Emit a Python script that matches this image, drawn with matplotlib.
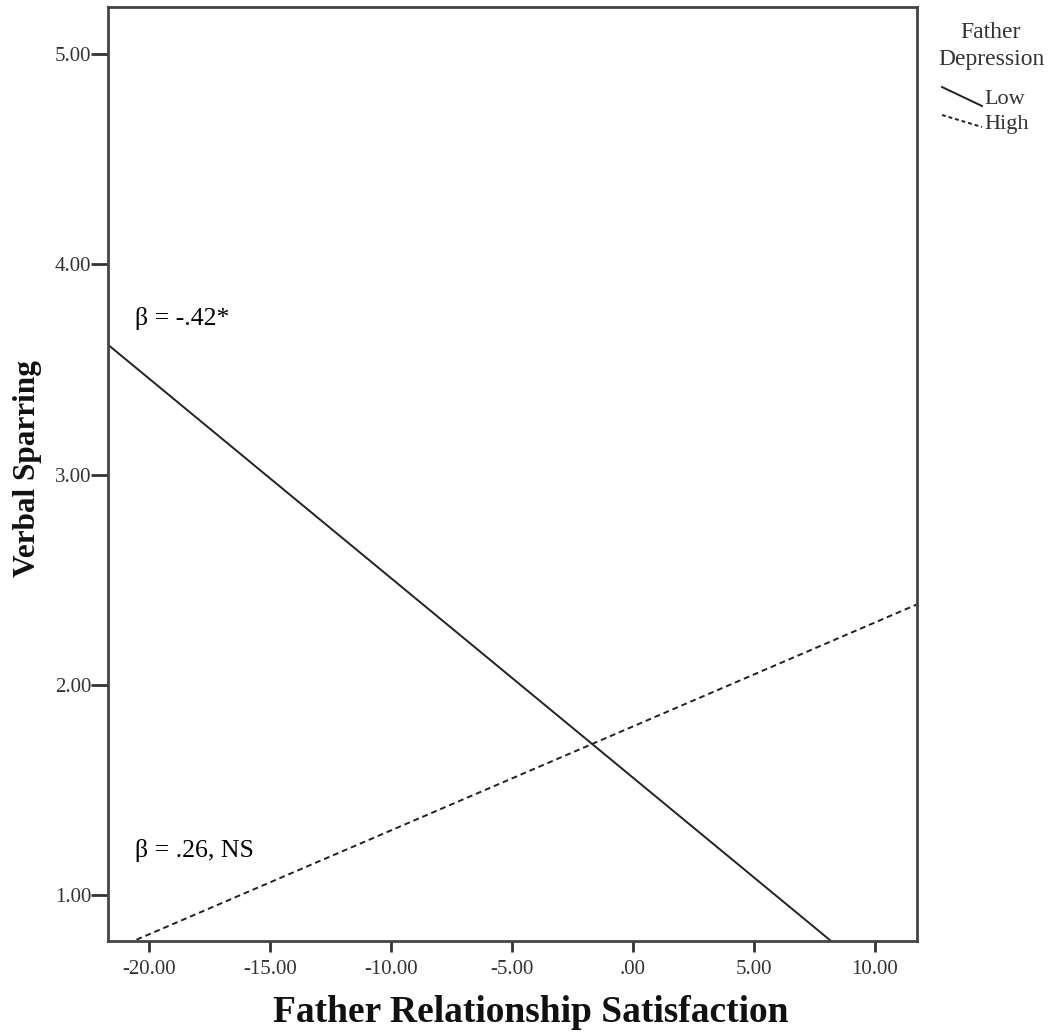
import numpy as np
import matplotlib
matplotlib.use("Agg")
import matplotlib.pyplot as plt
from matplotlib.lines import Line2D

plt.rcParams['font.family'] = ['Liberation Serif', 'DejaVu Serif']

# simple slopes (line endpoints, clipped by the axes)
x_ends = [-22.0, 12.0]
low_y = [3.646, 0.419]
high_y = [0.714, 2.395]

x_ticks = [-20, -15, -10, -5, 0, 5, 10]
x_labels = ["-20.00", "-15.00", "-10.00", "-5.00", ".00", "5.00", "10.00"]
y_ticks = [1, 2, 3, 4, 5]
y_labels = ["1.00", "2.00", "3.00", "4.00", "5.00"]

W, H = 1055, 1033
fig = plt.figure(figsize=(W / 100, H / 100), dpi=100)
ax = fig.add_axes([108 / W, 1 - 941 / H, (917 - 108) / W, (941 - 7) / H])

ax.plot(x_ends, low_y, color="#222222", lw=1.4, solid_capstyle="butt")
ax.plot(x_ends, high_y, color="#222222", lw=1.4, linestyle=(0, (3, 2)))

ax.set_xlim(-21.7, 11.74)
ax.set_ylim(0.781, 5.224)

ax.set_xticks(x_ticks)
ax.set_xticklabels(x_labels)
ax.set_yticks(y_ticks)
ax.set_yticklabels(y_labels)

for s in ax.spines.values():
    s.set_color("#444444")
    s.set_linewidth(2)
ax.tick_params(axis="x", direction="out", length=8, width=2, color="#333333",
               labelsize=15, labelcolor="#333333", pad=6)
ax.tick_params(axis="y", direction="out", length=12, width=2, color="#333333",
               labelsize=15, labelcolor="#333333", pad=0)

fig.text(531 / W, 1 - 1012 / H, "Father Relationship Satisfaction",
         ha="center", va="center", fontsize=27, fontweight="bold", color="#111111")
fig.text(28 / W, 1 - 469 / H, "Verbal Sparring", rotation=90,
         ha="center", va="center", fontsize=22.5, fontweight="bold", color="#111111")

ax.text(0.033, 0.666, "β = -.42*", transform=ax.transAxes, fontsize=18.5,
        ha="left", va="center")
ax.text(0.033, 0.0974, "β = .26, NS", transform=ax.transAxes, fontsize=18.5,
        ha="left", va="center")

# legend, drawn by hand like the SPSS one
fig.text(991 / W, 1 - 32 / H, "Father", ha="center", va="center",
         fontsize=17, color="#333333")
fig.text(991 / W, 1 - 59 / H, "Depression", ha="center", va="center",
         fontsize=17, color="#333333")
fig.add_artist(Line2D([942 / W, 982 / W], [1 - 87 / H, 1 - 106 / H],
                      color="#222222", lw=1.4))
fig.add_artist(Line2D([942 / W, 982 / W], [1 - 115 / H, 1 - 127 / H],
                      color="#222222", lw=1.4, linestyle=(0, (2, 1.5))))
fig.text(984 / W, 1 - 99 / H, "Low", ha="left", va="center",
         fontsize=16, color="#333333")
fig.text(984 / W, 1 - 124 / H, "High", ha="left", va="center",
         fontsize=16, color="#333333")

fig.savefig("out.png", dpi=100)
